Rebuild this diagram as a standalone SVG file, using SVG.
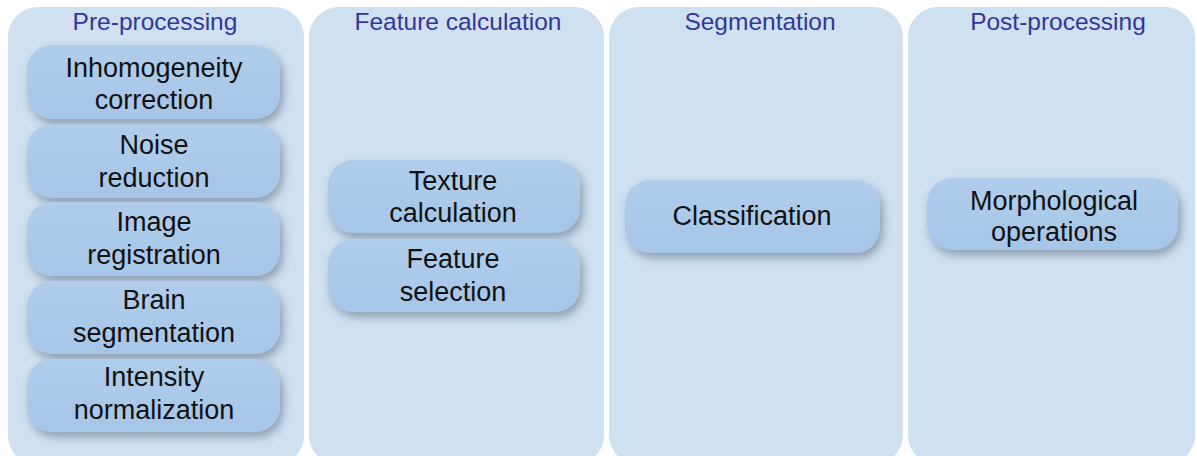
<svg xmlns="http://www.w3.org/2000/svg" width="1197" height="456" viewBox="0 0 1197 456">
<style>
.panel{fill:#cfe1f1}
.title{font-family:"Liberation Sans",Arial,sans-serif;font-size:24.5px;fill:#35359a;text-anchor:middle}
.node rect{fill:url(#ng);filter:url(#sh)}
.node text{font-family:"Liberation Sans",Arial,sans-serif;font-size:27px;fill:#111;text-anchor:middle}
</style>
<defs>
<linearGradient id="ng" x1="0" y1="0" x2="0" y2="1">
<stop offset="0" stop-color="#b0cdeb"/>
<stop offset="1" stop-color="#a6c6e8"/>
</linearGradient>
<filter id="sh" x="-10%" y="-20%" width="125%" height="160%">
<feDropShadow dx="3" dy="5" stdDeviation="5" flood-color="#3c4a66" flood-opacity="0.45"/>
</filter>
</defs>
<rect width="1197" height="456" fill="#ffffff"/>
<g id="panel-pre">
<rect class="panel" x="8" y="7" width="296" height="458" rx="30"/>
<text class="title" x="155" y="30">Pre-processing</text>
</g>
<g id="panel-feature">
<rect class="panel" x="309" y="7" width="295" height="458" rx="30"/>
<text class="title" x="458" y="30">Feature calculation</text>
</g>
<g id="panel-seg">
<rect class="panel" x="609" y="7" width="294" height="458" rx="30"/>
<text class="title" x="760" y="30">Segmentation</text>
</g>
<g id="panel-post">
<rect class="panel" x="908" y="7" width="287" height="458" rx="30"/>
<text class="title" x="1058" y="30">Post-processing</text>
</g>
<g id="n-inhom" class="node">
<rect x="27" y="45" width="253" height="74" rx="25"/>
<text x="154" y="77">Inhomogeneity</text>
<text x="154" y="109">correction</text>
</g>
<g id="n-noise" class="node">
<rect x="27" y="124" width="253" height="74" rx="25"/>
<text x="154" y="154">Noise</text>
<text x="154" y="187">reduction</text>
</g>
<g id="n-reg" class="node">
<rect x="27" y="202" width="253" height="74" rx="25"/>
<text x="154" y="231">Image</text>
<text x="154" y="264">registration</text>
</g>
<g id="n-brain" class="node">
<rect x="27" y="281" width="253" height="73" rx="25"/>
<text x="154" y="309">Brain</text>
<text x="154" y="342">segmentation</text>
</g>
<g id="n-intensity" class="node">
<rect x="27" y="359" width="253" height="73" rx="25"/>
<text x="154" y="386">Intensity</text>
<text x="154" y="419">normalization</text>
</g>
<g id="n-texture" class="node">
<rect x="328" y="160" width="252" height="73" rx="25"/>
<text x="453" y="190">Texture</text>
<text x="453" y="222">calculation</text>
</g>
<g id="n-featsel" class="node">
<rect x="328" y="239" width="252" height="73" rx="25"/>
<text x="453" y="268">Feature</text>
<text x="453" y="301">selection</text>
</g>
<g id="n-class" class="node">
<rect x="625" y="180" width="255" height="73" rx="25"/>
<text x="752" y="225">Classification</text>
</g>
<g id="n-morph" class="node">
<rect x="927" y="178" width="251" height="72" rx="25"/>
<text x="1054" y="210">Morphological</text>
<text x="1054" y="241">operations</text>
</g>
<g id="connectors"></g>
</svg>
